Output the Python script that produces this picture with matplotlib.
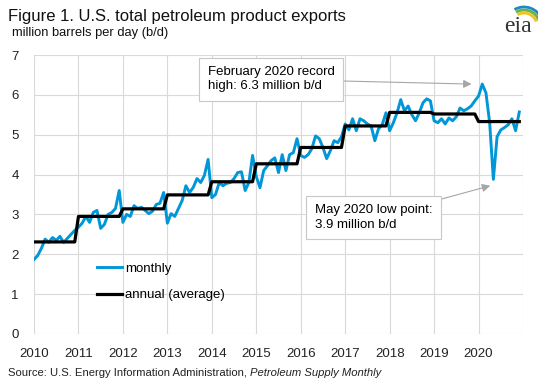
import numpy as np
import matplotlib
matplotlib.use("Agg")
import matplotlib.pyplot as plt
from matplotlib.patches import Arc

plt.rcParams['font.family'] = ['Liberation Sans', 'DejaVu Sans']

years = list(range(2010, 2021))
monthly = {
    2010: [1.87, 1.97, 2.15, 2.38, 2.30, 2.42, 2.35, 2.45, 2.30, 2.40, 2.50, 2.60],
    2011: [2.68, 2.78, 2.95, 2.80, 3.05, 3.10, 2.65, 2.75, 3.00, 3.05, 3.15, 3.60],
    2012: [2.80, 3.00, 2.95, 3.22, 3.15, 3.18, 3.10, 3.02, 3.08, 3.25, 3.28, 3.55],
    2013: [2.78, 3.02, 2.95, 3.15, 3.35, 3.72, 3.55, 3.68, 3.90, 3.80, 3.98, 4.38],
    2014: [3.42, 3.50, 3.80, 3.72, 3.78, 3.80, 3.90, 4.05, 4.07, 3.60, 3.80, 4.48],
    2015: [3.95, 3.67, 4.10, 4.22, 4.35, 4.42, 4.05, 4.50, 4.10, 4.50, 4.55, 4.90],
    2016: [4.48, 4.43, 4.50, 4.65, 4.97, 4.90, 4.68, 4.40, 4.60, 4.85, 4.80, 4.95],
    2017: [5.27, 5.12, 5.40, 5.10, 5.40, 5.35, 5.27, 5.22, 4.85, 5.15, 5.25, 5.55],
    2018: [5.10, 5.30, 5.55, 5.88, 5.60, 5.72, 5.50, 5.35, 5.55, 5.80, 5.90, 5.85],
    2019: [5.35, 5.30, 5.40, 5.27, 5.42, 5.35, 5.45, 5.67, 5.60, 5.65, 5.72, 5.85],
    2020: [5.97, 6.27, 6.05, 5.30, 3.88, 4.95, 5.12, 5.18, 5.25, 5.40, 5.10, 5.57],
}
annual = [2.31, 2.95, 3.14, 3.49, 3.82, 4.27, 4.68, 5.22, 5.56, 5.52, 5.33]

x_ticks = list(range(2010, 2021))
x_labels = [str(y) for y in x_ticks]
y_ticks = list(range(0, 8))

# time axis
t = []
m_vals = []
a_vals = []
for i, yr in enumerate(years):
    for m, v in enumerate(monthly[yr]):
        t.append(yr + m / 12.0)
        m_vals.append(v)
        a_vals.append(annual[i])
t = np.array(t)
m_vals = np.array(m_vals)

fig = plt.figure(figsize=(5.45, 3.84), dpi=100)
ax = fig.add_axes([34/545, 1 - 334/384, (523-34)/545, (334-55)/384])

blue = '#0096d7'
ax.plot(t, m_vals, color=blue, lw=2.1, solid_joinstyle='round', label='monthly', zorder=3)
ax.plot(t, a_vals, color='black', lw=2.3, label='annual (average)', zorder=4)

ax.set_xlim(2010, 2021)
ax.set_ylim(0, 7)
ax.set_xticks(x_ticks + [2021])
ax.set_xticklabels(x_labels + [''])
ax.set_yticks(y_ticks)
ax.grid(True, color='#d9d9d9', lw=0.8)
ax.set_axisbelow(True)
for s in ax.spines.values():
    s.set_visible(False)
ax.tick_params(length=0, labelsize=9.5, colors='#222222')
ax.tick_params(axis='x', pad=10)
ax.tick_params(axis='y', pad=11)

leg = ax.legend(loc='lower left', bbox_to_anchor=(0.105, 0.075), frameon=False,
                fontsize=9.5, handlelength=1.9, handletextpad=0.2, labelspacing=1.05)

# annotations
i_feb = list(t).index(2020 + 1/12.0)
i_may = list(t).index(2020 + 4/12.0)
ax.annotate('February 2020 record\nhigh: 6.3 million b/d',
            xy=(t[i_feb] - 0.24, m_vals[i_feb] + 0.0), xycoords='data',
            xytext=(2013.91, 6.39), textcoords='data', ha='left', va='center',
            fontsize=9.5, linespacing=1.25,
            bbox=dict(boxstyle='square,pad=0.65', fc='white', ec='#c8c8c8', lw=0.8),
            arrowprops=dict(arrowstyle='-|>', color='#a6a6a6', lw=0.8,
                            mutation_scale=12, shrinkA=0, shrinkB=0),
            zorder=6)
ax.annotate('May 2020 low point:\n3.9 million b/d',
            xy=(t[i_may] - 0.07, m_vals[i_may] - 0.16), xycoords='data',
            xytext=(2016.32, 2.92), textcoords='data', ha='left', va='center',
            fontsize=9.5, linespacing=1.25,
            bbox=dict(boxstyle='square,pad=0.65', fc='white', ec='#c8c8c8', lw=0.8),
            arrowprops=dict(arrowstyle='-|>', color='#a6a6a6', lw=0.8,
                            mutation_scale=12, shrinkA=0, shrinkB=0),
            zorder=6)

# titles
fig.text(8/545, 1 - 16/384, 'Figure 1. U.S. total petroleum product exports',
         fontsize=12, va='center', ha='left', color='#111111')
fig.text(12/545, 1 - 33/384, 'million barrels per day (b/d)',
         fontsize=9.3, va='center', ha='left', color='#111111')
fig.text(8/545, 1 - 373/384, 'Source: U.S. Energy Information Administration, ',
         fontsize=8.1, va='center', ha='left', color='#222222')
src = fig.texts[-1]
fig.canvas.draw()
bb = src.get_window_extent()
fig.text(bb.x1 / fig.bbox.width, 1 - 373/384, 'Petroleum Supply Monthly',
         fontsize=8.1, va='center', ha='left', style='italic', color='#222222')

# eia logo
fig.text(518/545, 1 - 27/384, 'eia', fontsize=17, family='Liberation Serif',
         ha='center', va='center', color='#333333')
lax = fig.add_axes([498/545, 1 - 22/384, 40/545, 20/384])
lax.set_xlim(0, 40); lax.set_ylim(0, 20); lax.axis('off')
for r, c in [(13, '#f2c318'), (16, '#6ab344'), (19, '#1e88c9')]:
    lax.add_patch(Arc((26, -4), 2 * r, 2 * r, theta1=20, theta2=120, color=c, lw=2))

fig.savefig('out.png', dpi=100)
